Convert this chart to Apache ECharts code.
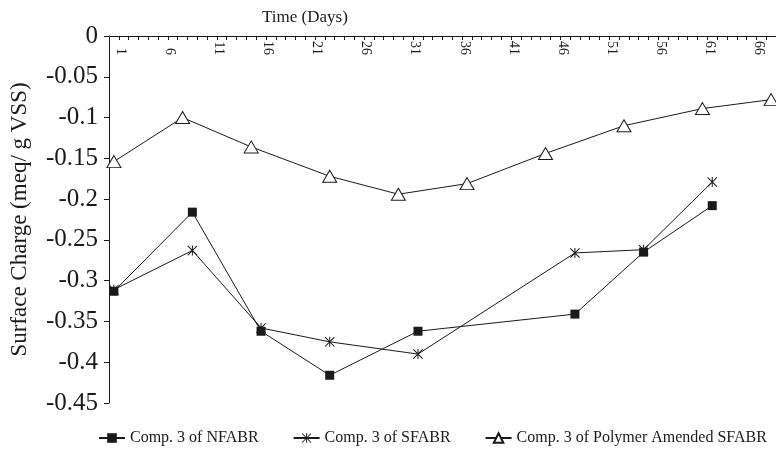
<!DOCTYPE html>
<html>
<head>
<meta charset="utf-8">
<script src="https://cdn.jsdelivr.net/npm/echarts@6/dist/echarts.min.js"></script>
<style>html,body{margin:0;padding:0;background:#fff;}#c{width:776px;height:450px;}</style>
</head>
<body>
<div id="c"></div>
<script>
// Category labels (days)
const dayCategories = [];
for (let d = 1; d <= 68; d++) dayCategories.push(String(d));

// Series data
const nfabrDays = [1, 9, 16, 23, 32, 48, 55, 62];
const nfabrVals = [-0.313, -0.216, -0.362, -0.416, -0.362, -0.341, -0.265, -0.208];
const sfabrDays = [1, 9, 16, 23, 32, 48, 55, 62];
const sfabrVals = [-0.311, -0.263, -0.358, -0.375, -0.390, -0.266, -0.262, -0.179];
const polyDays = [1, 8, 15, 23, 30, 37, 45, 53, 61, 68];
const polyVals = [-0.154, -0.100, -0.136, -0.172, -0.194, -0.181, -0.144, -0.110, -0.089, -0.078];

const seriesNames = ['Comp. 3 of NFABR', 'Comp. 3 of SFABR', 'Comp. 3 of Polymer Amended SFABR'];

const pair = (ds, vs) => ds.map((d, i) => [String(d), vs[i]]);
const FONT = '"Liberation Serif", "Times New Roman", serif';
const INK = '#1a1a1a';
const starPath = 'path://M4.5,0 L5.5,0 L5.5,10 L4.5,10 Z M0,0.7 L0.7,0 L10,9.3 L9.3,10 Z M10,0.7 L0.7,10 L0,9.3 L9.3,0 Z';

const chart = echarts.init(document.getElementById('c'), null, {renderer: 'canvas'});
chart.setOption({
  animation: false,
  backgroundColor: '#fff',
  textStyle: {fontFamily: FONT, color: INK},
  title: {
    text: 'Time (Days)', left: 257, top: 4,
    textStyle: {fontFamily: FONT, fontSize: 17, fontWeight: 'normal', color: INK}
  },
  legend: {
    bottom: 4, left: 98, width: 690, padding: 0, itemWidth: 26, itemHeight: 12, itemGap: 34,
    textStyle: {fontFamily: FONT, fontSize: 16, color: INK},
    data: seriesNames
  },
  grid: {left: 103, right: -4, top: 36, bottom: 47, containLabel: false},
  xAxis: {
    type: 'category', position: 'top', data: dayCategories, boundaryGap: true,
    axisLine: {lineStyle: {color: INK, width: 1}},
    axisTick: {show: true, interval: 0, inside: true, length: 4, lineStyle: {color: INK}},
    axisLabel: {
      interval: 4, inside: true, rotate: -90, margin: 19, align: 'right', verticalAlign: 'bottom',
      fontFamily: FONT, fontSize: 14, color: INK
    },
    splitLine: {show: false}
  },
  yAxis: {
    type: 'value', min: -0.45, max: 0, interval: 0.05,
    name: 'Surface Charge (meq/ g VSS)', nameLocation: 'middle', nameRotate: 90, nameGap: 78,
    nameTextStyle: {fontFamily: FONT, fontSize: 23, color: INK},
    axisLine: {show: true, lineStyle: {color: INK, width: 1}},
    axisTick: {show: true, inside: false, length: 5, lineStyle: {color: INK}},
    axisLabel: {fontFamily: FONT, fontSize: 25, color: INK, margin: 11},
    splitLine: {show: false}
  },
  series: [
    {
      name: seriesNames[0], type: 'line', data: pair(nfabrDays, nfabrVals), z: 4,
      symbol: 'rect', symbolSize: 9, showAllSymbol: true,
      lineStyle: {color: INK, width: 1}, itemStyle: {color: INK}
    },
    {
      name: seriesNames[1], type: 'line', data: pair(sfabrDays, sfabrVals), z: 3,
      symbol: starPath, symbolSize: 10, showAllSymbol: true,
      lineStyle: {color: INK, width: 1}, itemStyle: {color: INK}
    },
    {
      name: seriesNames[2], type: 'line', data: pair(polyDays, polyVals), z: 2,
      symbol: 'triangle', symbolSize: [14, 12], showAllSymbol: true,
      lineStyle: {color: INK, width: 1}, itemStyle: {color: '#fff', borderColor: INK, borderWidth: 1}
    }
  ]
});
</script>
</body>
</html>
